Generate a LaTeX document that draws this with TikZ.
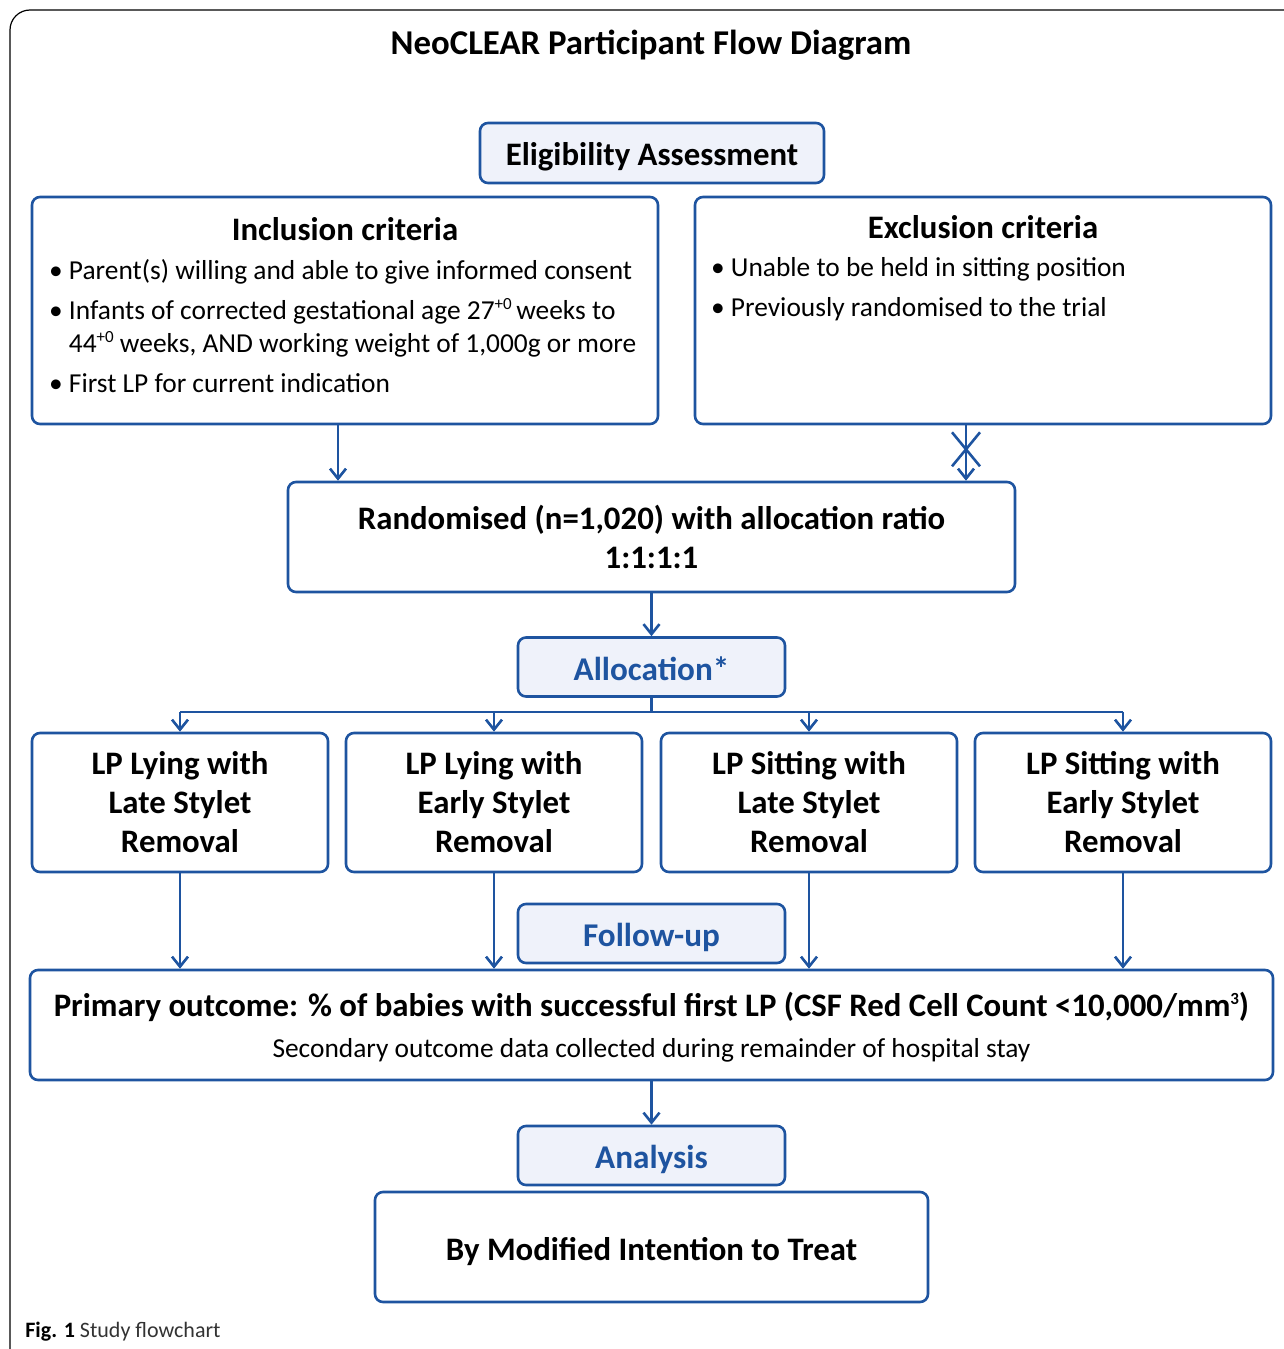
\documentclass[tikz,border=0pt]{standalone}
\usepackage{fontspec}
\setmainfont{Carlito}
\usetikzlibrary{arrows.meta,positioning,calc}

\definecolor{flowblue}{RGB}{30,84,160}
\definecolor{stagefill}{RGB}{239,242,250}

\newcommand{\smallsup}[1]{\raisebox{0.75ex}{\fontsize{8.5}{8.5}\selectfont #1}}

\tikzstyle{bigbox} = [rectangle, rounded corners=4pt, draw=flowblue, line width=1.3pt, fill=white, align=center, font=\bfseries\fontsize{16.4}{19.5}\selectfont]
\tikzstyle{critbox} = [rectangle, rounded corners=4pt, draw=flowblue, line width=1.3pt, fill=white, minimum height=113.5pt]
\tikzstyle{stage} = [rectangle, rounded corners=4pt, draw=flowblue, line width=1.3pt, fill=stagefill, text=flowblue, minimum width=133.5pt, minimum height=29.5pt, text height=13pt, text depth=0pt, font=\bfseries\fontsize{16.6}{18}\selectfont]
\tikzstyle{armbox} = [bigbox, minimum width=148pt, minimum height=69.5pt]
\tikzstyle{crittitle} = [inner sep=0pt, font=\bfseries\fontsize{16.4}{18}\selectfont]
\tikzstyle{critlist} = [inner sep=0pt, align=left, font=\fontsize{13.7}{16.5}\selectfont]
\tikzstyle{flow} = [draw=flowblue, line width=1.3pt, >={Straight Barb[length=5pt,width=8pt]}]

\begin{document}
\begin{tikzpicture}[x=0.5pt, y=-0.5pt]
\useasboundingbox (0,0) rectangle (1284,1349);

\draw [line width=0.6pt, rounded corners=10pt] (10,1349) -- (10,10) -- (1284,10);

\node (title) at (651,45) [font=\bfseries\fontsize{17.4}{20}\selectfont] {NeoCLEAR Participant Flow Diagram};

\node (elig) at (652,153) [bigbox, fill=stagefill, minimum width=172pt, minimum height=30pt, text height=12pt, text depth=0pt] {Eligibility Assessment};

\node (incl) at (345,310.5) [critbox, minimum width=313pt] {};
\node (incltitle) [crittitle, below=10.5pt of incl.north] {Inclusion criteria};
\node (incllist) [critlist, anchor=north west] at ([xshift=9pt,yshift=-31.5pt]incl.north west) {\textbullet\ Parent(s) willing and able to give informed consent\\[3.5pt]
\textbullet\ Infants of corrected gestational age 27\smallsup{+0}\,weeks to\\
\phantom{\textbullet\ }44\smallsup{+0} weeks, AND working weight of 1,000g or more\\[3.5pt]
\textbullet\ First LP for current indication};

\node (excl) at (983,310.5) [critbox, minimum width=288pt] {};
\node (excltitle) [crittitle, below=9.5pt of excl.north] {Exclusion criteria};
\node (excllist) [critlist, anchor=north west] at ([xshift=8.5pt,yshift=-30.5pt]excl.north west) {\textbullet\ Unable to be held in sitting position\\[3.5pt]
\textbullet\ Previously randomised to the trial};

\node (rand) at (651.5,537) [bigbox, minimum width=363.5pt, minimum height=55pt] {Randomised (n=1,020) with allocation ratio\\1:1:1:1};

\node (alloc) at (651.5,667) [stage] {Allocation*};

\node (arm1) at (180,802.5) [armbox] {LP Lying with\\Late Stylet\\Removal};
\node (arm2) at (494,802.5) [armbox] {LP Lying with\\Early Stylet\\Removal};
\node (arm3) at (809,802.5) [armbox] {LP Sitting with\\Late Stylet\\Removal};
\node (arm4) at (1123,802.5) [armbox] {LP Sitting with\\Early Stylet\\Removal};

\node (follow) at (651.5,933.5) [stage] {Follow-up};

\node (prim) at (651.5,1025) [bigbox, minimum width=621.5pt, minimum height=55pt, text depth=0pt, font=\bfseries\fontsize{16.4}{20.5}\selectfont] {Primary outcome: \% of babies with successful first LP (CSF Red Cell Count <10,000/mm\smallsup{3})\\
{\mdseries\fontsize{13.7}{20.5}\selectfont Secondary outcome data collected during remainder of hospital stay}};

\node (anal) at (651.5,1155.5) [stage] {Analysis};

\node (itt) at (651.5,1247) [bigbox, minimum width=276.5pt, minimum height=55pt, text height=13pt, text depth=0pt] {By Modified Intention to Treat};

\node (caption) at (25,1332) [anchor=west, inner sep=0pt, font=\fontsize{11}{13}\selectfont] {\textbf{Fig. 1} {\color{black!80}Study flowchart}};

\draw [flow, ->] ([xshift=-3.5pt]incl.south) -- ([xshift=-3.5pt]incl.south |- rand.north);
\draw [flow, ->] ([xshift=-8.5pt]excl.south) -- ([xshift=-8.5pt]excl.south |- rand.north);
\coordinate (cut) at ([xshift=-8.5pt,yshift=-12pt]excl.south);
\draw [flow] ($(cut)+(-14,-17)$) -- ($(cut)+(14,17)$);
\draw [flow] ($(cut)+(14,-17)$) -- ($(cut)+(-14,17)$);

\draw [flow, ->] (rand) -- (alloc);
\draw [flow] (alloc.south) -- ++(0,14) coordinate (bus);
\draw [flow] (bus -| arm1) -- (bus -| arm4);
\draw [flow, ->] (bus -| arm1) -- (arm1.north);
\draw [flow, ->] (bus -| arm2) -- (arm2.north);
\draw [flow, ->] (bus -| arm3) -- (arm3.north);
\draw [flow, ->] (bus -| arm4) -- (arm4.north);

\draw [flow, ->] (arm1) -- (arm1 |- prim.north);
\draw [flow, ->] (arm2) -- (arm2 |- prim.north);
\draw [flow, ->] (arm3) -- (arm3 |- prim.north);
\draw [flow, ->] (arm4) -- (arm4 |- prim.north);

\draw [flow, ->] (prim) -- (anal);
\end{tikzpicture}
\end{document}
